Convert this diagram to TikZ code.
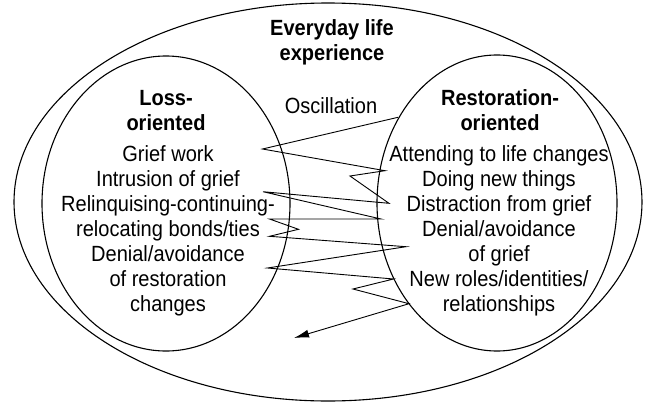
\documentclass[tikz,border=0pt]{standalone}
\usepackage{fontspec}
\setmainfont{Liberation Sans}[FakeStretch=0.91]
\usetikzlibrary{arrows.meta}
\begin{document}
\begin{tikzpicture}[x=1pt,y=-1pt,
  ring/.style={draw=black,line width=1.1pt},
  label/.style={inner sep=0pt,anchor=base,align=center,
    font=\fontsize{22}{25}\selectfont},
  head/.style={label,font=\fontsize{22}{25}\selectfont\bfseries},
  swing/.style={draw=black,line width=0.9pt,line join=miter},
]
\useasboundingbox (0,0) rectangle (649,402);

% the three regions
\draw[ring] (328,202) ellipse [x radius=314,y radius=199];
\draw[ring] (166,203.5) ellipse [x radius=124,y radius=147.5];
\draw[ring] (497,203) ellipse [x radius=120,y radius=148];

% headings (anchored at the baseline of their last line)
\node[head] (life) at (332,60) {Everyday life\\experience};
\node[head] (loss) at (166,130) {Loss-\\oriented};
\node[head] (rest) at (500,130) {Restoration-\\oriented};
\node[label] (osc) at (331,113.3) {Oscillation};

% contents of each orientation
\node[label] (lossitems) at (168,311.7) {Grief work\\Intrusion of grief\\Relinquising-continuing-\\relocating bonds/ties\\Denial/avoidance\\of restoration\\changes};
\node[label] (restitems) at (499,311.7) {Attending to life changes\\Doing new things\\Distraction from grief\\Denial/avoidance\\of grief\\New roles/identities/\\relationships};

% oscillation path
\coordinate (z0) at (398,117.3);
\coordinate (z1) at (262.5,149);
\coordinate (z2) at (385,170.7);
\coordinate (z3) at (350,176);
\coordinate (z4) at (389,203.3);
\coordinate (z5) at (263,191.7);
\coordinate (z6) at (381,219);
\coordinate (z7) at (269.5,219);
\coordinate (z8) at (298.5,229.3);
\coordinate (z9) at (269.5,236.3);
\coordinate (z10) at (406,246.7);
\coordinate (z11) at (267.5,268);
\coordinate (z12) at (393.5,279);
\coordinate (z13) at (353,289);
\coordinate (z14) at (409,303.7);
\coordinate (z15) at (294,338);
\draw[swing,-{Latex[length=15pt,width=8pt]}]
  (z0) -- (z1) -- (z2) -- (z3) -- (z4) -- (z5) -- (z6) -- (z7) -- (z8)
  -- (z9) -- (z10) -- (z11) -- (z12) -- (z13) -- (z14) -- (z15);
\end{tikzpicture}
\end{document}
